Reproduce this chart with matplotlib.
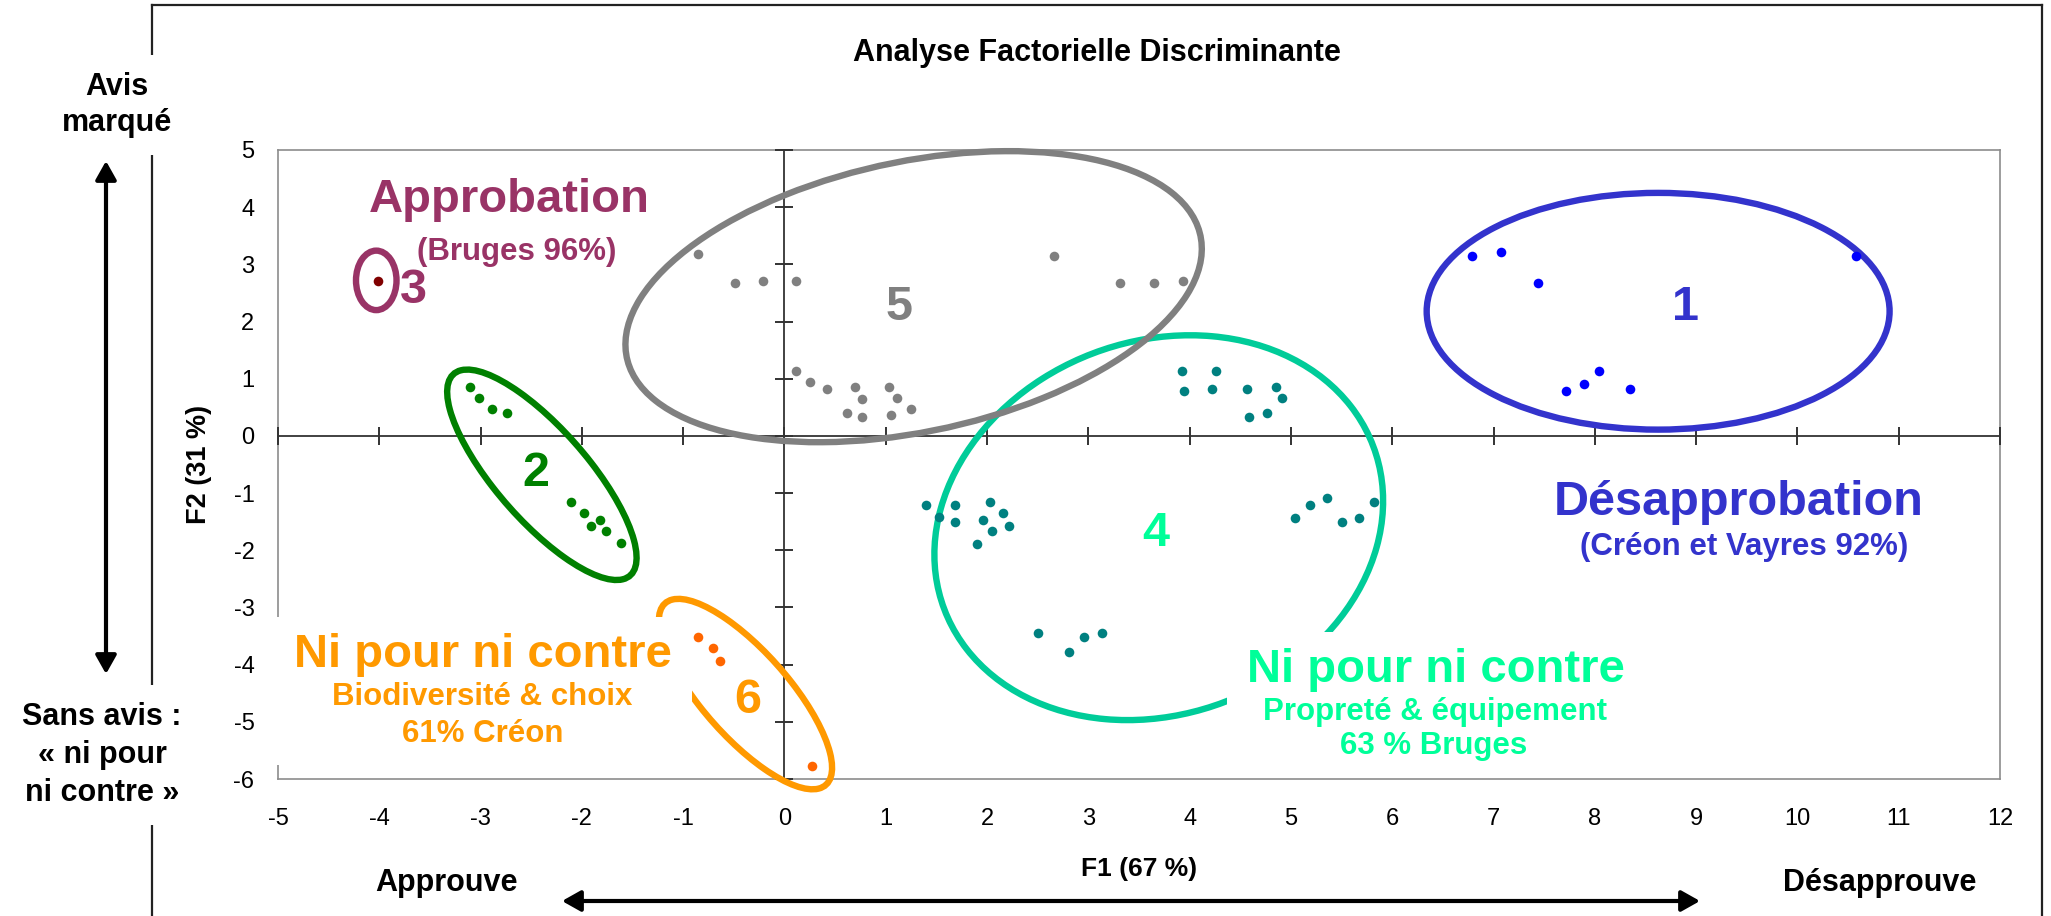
import matplotlib.pyplot as plt
import numpy as np
from matplotlib.lines import Line2D
from matplotlib.patches import Ellipse, FancyArrowPatch, Rectangle
from matplotlib.transforms import Bbox

plt.rcParams["font.family"] = ["Liberation Sans", "DejaVu Sans"]
plt.rcParams["axes.unicode_minus"] = False

W, H = 2051, 916

X_TICKS = list(range(-5, 13))
Y_TICKS = list(range(-6, 6))

# group 1 - désapprobation (blue)
C1_X = [6.79, 7.07, 7.44, 10.58, 8.04, 7.89, 7.72, 8.35]
C1_Y = [3.14, 3.22, 2.67, 3.14, 1.13, 0.90, 0.79, 0.82]
# group 2 (green)
C2_X = [-3.10, -3.02, -2.89, -2.74, -2.11, -1.98, -1.82, -1.91, -1.76, -1.61]
C2_Y = [0.86, 0.67, 0.47, 0.40, -1.16, -1.35, -1.47, -1.58, -1.66, -1.87]
# group 3 - approbation (single point)
C3_X = [-4.01]
C3_Y = [2.71]
# group 4 - ni pour ni contre, propreté (teal)
C4_X = [1.40, 1.53, 1.68, 1.68, 2.03, 1.96, 2.16, 2.05, 2.22, 1.90,
        2.50, 2.81, 2.96, 3.13,
        5.04, 5.19, 5.36, 5.50, 5.67, 5.82,
        3.92, 4.26, 3.94, 4.22, 4.57, 4.85, 4.91, 4.59, 4.76]
C4_Y = [-1.20, -1.42, -1.20, -1.50, -1.16, -1.47, -1.35, -1.66, -1.58, -1.89,
        -3.44, -3.78, -3.51, -3.44,
        -1.43, -1.20, -1.08, -1.50, -1.43, -1.16,
        1.13, 1.13, 0.79, 0.82, 0.82, 0.86, 0.67, 0.33, 0.40]
# group 5 (grey)
C5_X = [-0.85, -0.49, -0.21, 0.11, 2.66, 3.31, 3.65, 3.93,
        0.11, 0.25, 0.42, 0.70, 0.77, 0.62, 0.77, 1.03, 1.11, 1.25, 1.05]
C5_Y = [3.18, 2.67, 2.71, 2.71, 3.14, 2.67, 2.67, 2.71,
        1.13, 0.94, 0.82, 0.86, 0.64, 0.40, 0.33, 0.86, 0.67, 0.47, 0.36]
# group 6 - ni pour ni contre, biodiversité (orange)
C6_X = [-0.85, -0.71, -0.64, 0.27]
C6_Y = [-3.51, -3.71, -3.93, -5.78]

# hand-drawn group outlines: centre x, centre y, half range x, half range y, phase (deg)
OUTLINES = {
    "1": (8.625, 2.18, 2.285, 2.07, 90.0),
    "2": (-2.395, -0.68, 0.935, 1.84, 142.0),
    "3": (-4.03, 2.72, 0.20, 0.52, 90.0),
    "4": (3.695, -1.605, 2.215, 3.365, 82.0),
    "5": (1.275, 2.435, 2.845, 2.545, 70.8),
    "6": (-0.385, -4.515, 0.855, 1.665, 140.7),
}

GROUPS = [
    ("1", C1_X, C1_Y, "#0000FF", "#3333CC", "#3333CC", (8.9, 2.03)),
    ("2", C2_X, C2_Y, "#008000", "#008000", "#008000", (-2.45, -0.88)),
    ("3", C3_X, C3_Y, "#800000", "#993366", "#993366", (-3.66, 2.32)),
    ("4", C4_X, C4_Y, "#008080", "#00CC99", "#00FF99", (3.67, -1.93)),
    ("5", C5_X, C5_Y, "#808080", "#808080", "#808080", (1.13, 2.03)),
    ("6", C6_X, C6_Y, "#FF6600", "#FF9900", "#FF9900", (-0.36, -4.85)),
]


def outline_patch(cx, cy, ax_, ay_, phase, color):
    phi = np.radians(phase)
    m = np.array([[ax_, 0.0], [ay_ * np.cos(phi), ay_ * np.sin(phi)]])
    u, s, _ = np.linalg.svd(m)
    angle = np.degrees(np.arctan2(u[1, 0], u[0, 0]))
    return Ellipse((cx, cy), 2 * s[0], 2 * s[1], angle=angle, fill=False,
                   edgecolor=color, linewidth=4.6, zorder=3, clip_on=False)


fig = plt.figure(figsize=(W / 100, H / 100), dpi=100)
ax = fig.add_axes([278 / W, 1 - 779 / H, 1722 / W, 629 / H])
ax.set_xlim(-5, 12)
ax.set_ylim(-6, 5)
ax.set_xticks(X_TICKS)
ax.set_yticks(Y_TICKS)
ax.tick_params(axis="both", length=0, labelsize=17)
ax.tick_params(axis="x", pad=21)
ax.tick_params(axis="y", pad=17)
for spine in ax.spines.values():
    spine.set_color("#8c8c8c")
    spine.set_linewidth(1.2)

# zero axes with crossing ticks
ax.axhline(0, color="#333333", linewidth=1.3, zorder=2.6)
ax.axvline(0, color="#333333", linewidth=1.3, zorder=2.6)
ax.plot(X_TICKS, np.zeros(len(X_TICKS)), ls="none", marker="|", ms=13,
        mew=1.4, color="#333333", clip_on=False, zorder=2.6)
ax.plot(np.zeros(len(Y_TICKS)), Y_TICKS, ls="none", marker="_", ms=13,
        mew=1.4, color="#333333", clip_on=False, zorder=2.6)

for key, xs, ys, pcolor, ecolor, lcolor, lpos in GROUPS:
    ax.add_patch(outline_patch(*OUTLINES[key], ecolor))
    ax.scatter(xs, ys, s=48, c=pcolor, linewidths=0, zorder=6)
    ax.text(lpos[0], lpos[1], key, color=lcolor, fontsize=35,
            fontweight="bold", ha="center", va="baseline", zorder=5)

ax.set_xlabel("F1 (67 %)", fontsize=19, fontweight="bold")
ax.xaxis.set_label_coords(0.5, (779 - 869) / 629)
ax.xaxis.label.set_va("center")
ax.set_ylabel("F2 (31 %)", fontsize=19.5, fontweight="bold")
ax.yaxis.set_label_coords((199 - 278) / 1722, 0.5)
ax.yaxis.label.set_va("center")

# annotations
PURPLE = "#993366"
BLUE = "#3333CC"
ORANGE = "#FF9900"
MINT = "#00FF99"

ax.text(-2.72, 3.92, "Approbation", color=PURPLE, fontsize=34,
        fontweight="bold", ha="center", va="baseline", zorder=5)
ax.text(-2.64, 3.08, "(Bruges 96%)", color=PURPLE, fontsize=22.5,
        fontweight="bold", ha="center", va="baseline", zorder=5)
ax.text(9.42, -1.38, "Désapprobation", color=BLUE, fontsize=35,
        fontweight="bold", ha="center", va="baseline", zorder=5)
ax.text(9.47, -2.08, "(Créon et Vayres 92%)", color=BLUE, fontsize=22.5,
        fontweight="bold", ha="center", va="baseline", zorder=5)

orange_group = [
    ax.text(-2.98, -4.04, "Ni pour ni contre", color=ORANGE, fontsize=34,
            fontweight="bold", ha="center", va="baseline", zorder=5),
    ax.text(-2.98, -4.71, "Biodiversité & choix", color=ORANGE, fontsize=22.5,
            fontweight="bold", ha="center", va="baseline", zorder=5),
    ax.text(-2.98, -5.35, "61% Créon", color=ORANGE, fontsize=22.5,
            fontweight="bold", ha="center", va="baseline", zorder=5),
]
mint_group = [
    ax.text(6.43, -4.30, "Ni pour ni contre", color=MINT, fontsize=34,
            fontweight="bold", ha="center", va="baseline", zorder=5),
    ax.text(6.42, -4.97, "Propreté & équipement", color=MINT, fontsize=22.5,
            fontweight="bold", ha="center", va="baseline", zorder=5),
    ax.text(6.41, -5.57, "63 % Bruges", color=MINT, fontsize=22.5,
            fontweight="bold", ha="center", va="baseline", zorder=5),
]

# outer frame
frame_kw = dict(color="#222222", linewidth=1.6, transform=fig.transFigure)
fig.add_artist(Line2D([152 / W, 152 / W], [0, 1 - 5 / H], **frame_kw))
fig.add_artist(Line2D([152 / W, 2042 / W], [1 - 5 / H, 1 - 5 / H], **frame_kw))
fig.add_artist(Line2D([2042 / W, 2042 / W], [0, 1 - 5 / H], **frame_kw))

fig.text(1097 / W, 1 - 53 / H, "Analyse Factorielle Discriminante",
         fontsize=22, fontweight="bold", ha="center", va="center")

white_box = dict(boxstyle="square,pad=0.55", fc="white", ec="none")
fig.text(117 / W, 1 - 105 / H, "Avis\nmarqué", fontsize=22,
         fontweight="bold", ha="center", va="center", linespacing=1.3,
         bbox=white_box)
fig.text(102 / W, 1 - 755 / H, "Sans avis :\n« ni pour\nni contre »",
         fontsize=22, fontweight="bold", ha="center", va="center",
         linespacing=1.35, bbox=white_box)
fig.text(446 / W, 1 - 883 / H, "Approuve", fontsize=22, fontweight="bold",
         ha="center", va="center")
fig.text(1880 / W, 1 - 883 / H, "Désapprouve", fontsize=22,
         fontweight="bold", ha="center", va="center")

arrow_kw = dict(arrowstyle="<|-|>,head_length=0.8,head_width=0.45",
                mutation_scale=14, linewidth=3, color="black",
                shrinkA=0, shrinkB=0, transform=fig.transFigure)
fig.add_artist(FancyArrowPatch((106 / W, 1 - 674 / H), (106 / W, 1 - 161 / H),
                               **arrow_kw))
fig.add_artist(FancyArrowPatch((562 / W, 1 - 901 / H), (1700 / W, 1 - 901 / H),
                               **arrow_kw))

# white backing behind the two multi-line annotations (hides outlines and spine)
fig.canvas.draw()
renderer = fig.canvas.get_renderer()
for group in (orange_group, mint_group):
    bb = Bbox.union([t.get_window_extent(renderer) for t in group])
    bb = Bbox.from_extents(bb.x0 - 20, bb.y0 - 16, bb.x1 + 20, bb.y1 + 16)
    bb = bb.transformed(ax.transAxes.inverted())
    ax.add_patch(Rectangle((bb.x0, bb.y0), bb.width, bb.height,
                           transform=ax.transAxes, facecolor="white",
                           edgecolor="none", zorder=4.5, clip_on=False))

fig.savefig("out.png", dpi=100)
